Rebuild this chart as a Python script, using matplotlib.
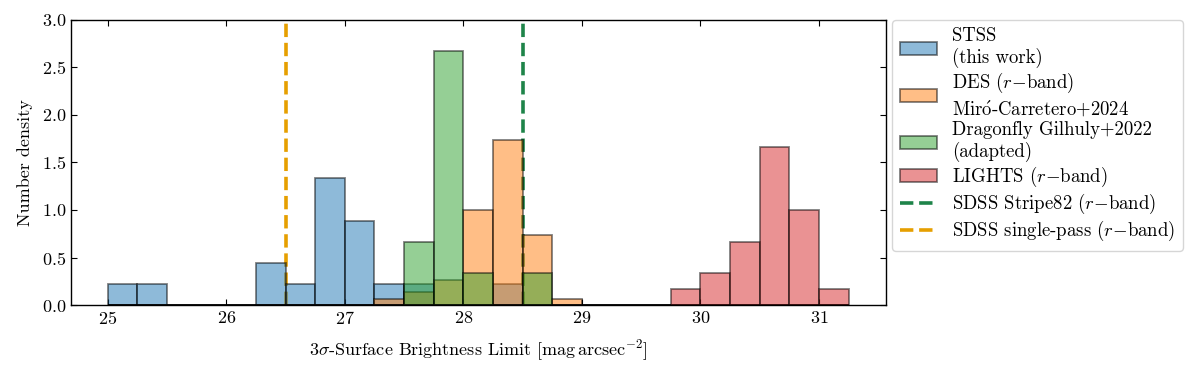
import numpy as np
import matplotlib

matplotlib.use("Agg")
import matplotlib.pyplot as plt

# {{{ data: bin edges (0.25 mag) and counts per bin

bin_width = 0.25
stss_bins = [25.0, 25.25, 26.25, 26.5, 26.75, 27.0, 27.25, 27.5, 28.25]
stss_counts = [1, 1, 2, 1, 6, 4, 1, 1, 1]

des_bins = [27.25, 27.5, 27.75, 28.0, 28.25, 28.5, 28.75]
des_counts = [1, 2, 4, 15, 26, 11, 1]

dragonfly_bins = [27.5, 27.75, 28.0, 28.5]
dragonfly_counts = [2, 8, 1, 1]

lights_bins = [29.75, 30.0, 30.25, 30.5, 30.75, 31.0]
lights_counts = [1, 2, 4, 10, 6, 1]

sdss_stripe82 = 28.5
sdss_single_pass = 26.5

# }}}

plt.rcParams.update({
    "font.family": ["cmr10", "DejaVu Serif"],
    "mathtext.fontset": "cm",
    "axes.formatter.use_mathtext": True,
    "font.size": 13,
    "xtick.direction": "in",
    "ytick.direction": "in",
    "xtick.top": True,
    "ytick.right": True,
    "xtick.major.size": 4.5,
    "ytick.major.size": 4.5,
    "axes.linewidth": 1.0,
})

fig = plt.figure(figsize=(12, 3.73), dpi=100)
ax = fig.add_axes([0.059, 0.182, 0.679, 0.765])

edges = np.arange(25.0, 31.25 + 1e-9, bin_width)


def expand(bins, counts):
    return np.repeat(np.asarray(bins) + bin_width / 2, counts)


rband = "($r$$-$band)"

ln1 = ax.axvline(sdss_stripe82, color="#1E8449", ls="--", lw=2.6,
                 label=f"SDSS Stripe82 {rband}", zorder=1)
ln2 = ax.axvline(sdss_single_pass, color="#E69F00", ls="--", lw=2.6,
                 label=f"SDSS single-pass {rband}", zorder=1)

series = [
    (stss_bins, stss_counts, "tab:blue", "STSS\n(this work)"),
    (des_bins, des_counts, "tab:orange",
     f"DES {rband}\n" + r"Mir$\acute{\mathrm{o}}$-Carretero+2024"),
    (dragonfly_bins, dragonfly_counts, "tab:green",
     "Dragonfly Gilhuly+2022\n(adapted)"),
    (lights_bins, lights_counts, "tab:red", f"LIGHTS {rband}"),
]

handles = []
for bins, counts, color, label in series:
    _, _, patches = ax.hist(
        expand(bins, counts), bins=edges, density=True,
        color=color, alpha=0.5, edgecolor="black", linewidth=1.3,
        label=label, zorder=2,
    )
    handles.append(patches[0])

handles += [ln1, ln2]

ax.set_ylim(0.0, 3.0)
ax.set_xlabel(r"$3\sigma$-Surface Brightness Limit [$\mathrm{mag\,arcsec^{-2}}$]",
              labelpad=8)
ax.set_ylabel("Number density", labelpad=6)

ax.legend(handles=handles, loc="upper left", bbox_to_anchor=(1.008, 1.0),
          fontsize=13.5, handlelength=2.0, labelspacing=0.15,
          borderaxespad=0.0, framealpha=0.8)

fig.savefig("out.png", dpi=100)
